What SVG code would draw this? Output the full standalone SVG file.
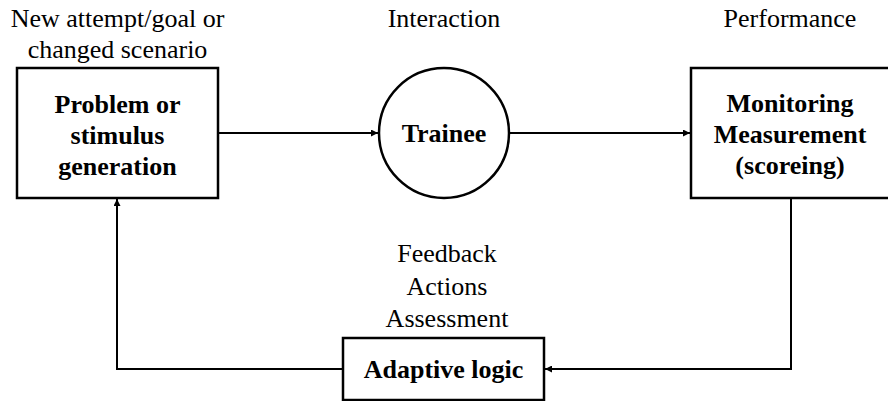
<svg xmlns="http://www.w3.org/2000/svg" width="888" height="401" viewBox="0 0 888 401">
  <style>
    .node { fill: #fff; stroke: #000; stroke-width: 2.5; }
    .link { fill: none; stroke: #000; stroke-width: 2; }
    text { font-family: 'Times New Roman', Times, 'Nimbus Roman', 'Nimbus Roman No9 L', FreeSerif, 'Noto Serif', Tinos, 'Liberation Serif', 'DejaVu Serif', serif; font-size: 26px; fill: #000; text-anchor: middle; }
    .title { font-weight: bold; }
  </style>
  <defs>
    <marker id="arrow" viewBox="0 0 10 10" refX="10" refY="5" markerWidth="9" markerHeight="7" markerUnits="userSpaceOnUse" orient="auto">
      <path d="M0,0 L10,5 L0,10 z" fill="#000"/>
    </marker>
  </defs>
  <rect width="888" height="401" fill="#fff"/>

  <!-- stage captions -->
  <g id="captions">
    <text x="117.5" y="27">New attempt/goal or</text>
    <text x="117.5" y="58">changed scenario</text>
    <text x="444" y="27">Interaction</text>
    <text x="790" y="27">Performance</text>
    <text x="447" y="262">Feedback</text>
    <text x="447" y="295">Actions</text>
    <text x="447" y="327">Assessment</text>
  </g>

  <!-- connectors -->
  <g id="connectors">
    <path class="link" d="M218,133 H378" marker-end="url(#arrow)"/>
    <path class="link" d="M509,133 H690" marker-end="url(#arrow)"/>
    <path class="link" d="M791,198 V369 H545" marker-end="url(#arrow)"/>
    <path class="link" d="M343,369 H117 V199" marker-end="url(#arrow)"/>
  </g>

  <g id="problem-generation">
    <rect class="node" x="17" y="68" width="201" height="130"/>
    <text class="title" x="117.5" y="113">Problem or</text>
    <text class="title" x="117.5" y="144">stimulus</text>
    <text class="title" x="117.5" y="175">generation</text>
  </g>

  <g id="trainee">
    <circle class="node" cx="444" cy="133" r="65"/>
    <text class="title" x="444" y="142">Trainee</text>
  </g>

  <g id="monitoring">
    <rect class="node" x="691" y="68" width="202" height="130"/>
    <text class="title" x="790" y="112">Monitoring</text>
    <text class="title" x="790" y="143">Measurement</text>
    <text class="title" x="790" y="174">(scoreing)</text>
  </g>

  <g id="adaptive-logic">
    <rect class="node" x="343" y="338" width="201" height="62"/>
    <text class="title" x="443.5" y="378">Adaptive logic</text>
  </g>
</svg>
